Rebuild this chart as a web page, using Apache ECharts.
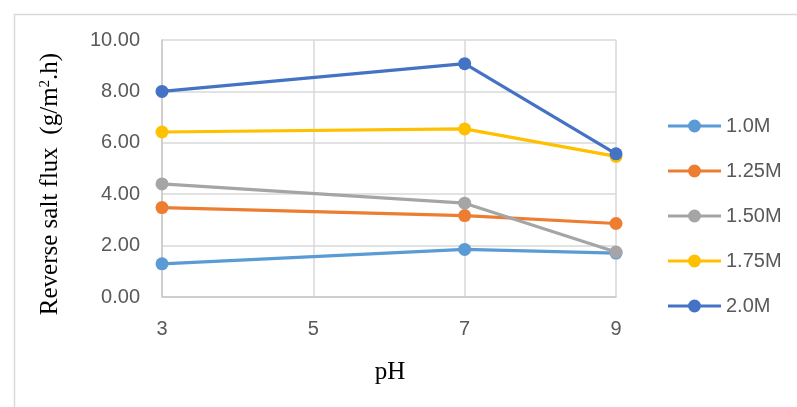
<!DOCTYPE html>
<html>
<head>
<meta charset="utf-8">
<script src="https://cdn.jsdelivr.net/npm/echarts@6/dist/echarts.min.js"></script>
<style>
html,body{margin:0;padding:0;background:#fff;}
#c{width:797px;height:407px;}
</style>
</head>
<body>
<div id="c"></div>
<script>
var phValues = [3, 7, 9];
var seriesNames = ['1.0M', '1.25M', '1.50M', '1.75M', '2.0M'];
var flux10 = [1.29, 1.85, 1.71];
var flux125 = [3.48, 3.17, 2.86];
var flux150 = [4.40, 3.65, 1.75];
var flux175 = [6.42, 6.54, 5.47];
var flux20 = [8.00, 9.08, 5.57];
var seriesColors = ['#5B9BD5', '#ED7D31', '#A5A5A5', '#FFC000', '#4472C4'];
var xTitle = 'pH';

var allValues = [flux10, flux125, flux150, flux175, flux20];

var chart = echarts.init(document.getElementById('c'), null, {renderer: 'canvas'});

var legendIcon = 'path://M0,5.5 L21,5.5 L21,8.5 L0,8.5 Z M32,5.5 L53,5.5 L53,8.5 L32,8.5 Z M20,7 A6.5,6.5 0 1,1 33,7 A6.5,6.5 0 1,1 20,7 Z';

var series = seriesNames.map(function (name, i) {
  return {
    name: name,
    type: 'line',
    data: phValues.map(function (x, j) { return [x, allValues[i][j]]; }),
    symbol: 'circle',
    symbolSize: 13,
    lineStyle: {width: 3.2, color: seriesColors[i]},
    itemStyle: {color: seriesColors[i]},
    animation: false
  };
});

chart.setOption({
  backgroundColor: '#fff',
  animation: false,
  grid: {left: 162, right: 181, top: 40, bottom: 110, containLabel: false},
  xAxis: {
    type: 'value', min: 3, max: 9, interval: 2,
    axisLine: {show: true, lineStyle: {color: '#C8C8C8', width: 1.5}},
    axisTick: {show: false},
    splitLine: {show: true, lineStyle: {color: '#D9D9D9', width: 1.5}},
    axisLabel: {color: '#595959', fontFamily: 'Liberation Sans', fontSize: 20, margin: 22}
  },
  yAxis: {
    type: 'value', min: 0, max: 10, interval: 2,
    axisLine: {show: true, lineStyle: {color: '#C8C8C8', width: 1.5}},
    axisTick: {show: false},
    splitLine: {show: true, lineStyle: {color: '#D9D9D9', width: 1.5}},
    axisLabel: {color: '#595959', fontFamily: 'Liberation Sans', fontSize: 20, margin: 22,
      formatter: function (v) { return v.toFixed(2); }}
  },
  legend: {
    orient: 'vertical', left: 663, top: 111,
    itemWidth: 53, itemHeight: 13, itemGap: 25,
    textStyle: {color: '#595959', fontFamily: 'Liberation Sans', fontSize: 20},
    data: seriesNames.map(function (n) { return {name: n, icon: legendIcon}; })
  },
  graphic: [
    {type: 'rect', left: 12, top: 12, shape: {width: 800, height: 420},
      style: {fill: 'none', stroke: '#D9D9D9', lineWidth: 1.5}, z: -1},
    {type: 'text', x: 390, y: 372,
      style: {text: xTitle, font: '25px "Liberation Serif"', fill: '#000', align: 'center', verticalAlign: 'middle'}},
    {type: 'text', x: 50, y: 184, rotation: Math.PI / 2,
      style: {
        text: '{n|Reverse salt flux  (g/m}{s|2}{n|.h)}',
        align: 'center', verticalAlign: 'middle',
        rich: {
          n: {font: '25px "Liberation Serif"', fill: '#000'},
          s: {font: '15px "Liberation Serif"', fill: '#000', verticalAlign: 'top', padding: [0, 0, 10, 0]}
        }
      }}
  ],
  series: series
});
</script>
</body>
</html>
